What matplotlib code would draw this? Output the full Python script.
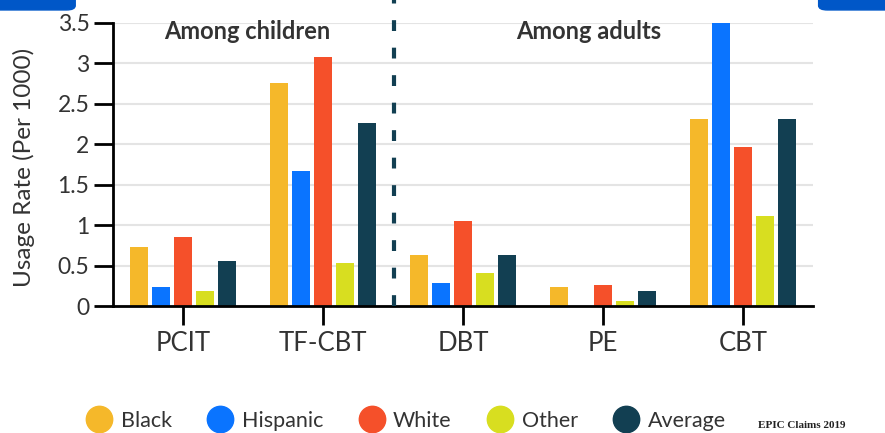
import numpy as np
import matplotlib
matplotlib.use("Agg")
import matplotlib.pyplot as plt
from matplotlib.patches import FancyBboxPatch
from matplotlib.lines import Line2D

plt.rcParams['font.family'] = ['Lato', 'DejaVu Sans']

# usage rates per 1000, by treatment and group
treatments = ["PCIT", "TF-CBT", "DBT", "PE", "CBT"]
groups = ["Black", "Hispanic", "White", "Other", "Average"]
black = [0.73, 2.76, 0.63, 0.23, 2.31]
hispanic = [0.23, 1.67, 0.28, 0.0, 3.5]
white = [0.85, 3.08, 1.05, 0.26, 1.97]
other = [0.19, 0.53, 0.41, 0.06, 1.11]
average = [0.56, 2.26, 0.63, 0.19, 2.31]
colors = ["#F5B82A", "#0A74FF", "#F5502A", "#D8DE20", "#123F52"]

series = [black, hispanic, white, other, average]

fig = plt.figure(figsize=(8.85, 4.33), dpi=100)
ax = fig.add_axes([0.1277, 0.2933, 0.7910, 0.6536])

x = np.arange(len(treatments))
step = 0.157
width = 0.128
for i, (vals, col) in enumerate(zip(series, colors)):
    ax.bar(x + (i - 2) * step, vals, width=width, color=col, zorder=3)

ax.set_xlim(-0.5, 4.5)
ax.set_ylim(0, 3.5)
ax.set_yticks(np.arange(0, 3.51, 0.5))
ax.set_yticklabels(["0", "0.5", "1", "1.5", "2", "2.5", "3", "3.5"])
ax.set_xticks(x)
ax.set_xticklabels(treatments)
ax.tick_params(axis='both', length=14, width=2, color='black',
               labelcolor='#333333')
ax.tick_params(axis='x', pad=4, labelsize=18.5)
ax.tick_params(axis='y', pad=3, labelsize=16.5)
ax.grid(axis='y', color='#e4e4e4', linewidth=1.5, zorder=0)

for side in ['top', 'right']:
    ax.spines[side].set_visible(False)
for side in ['left', 'bottom']:
    ax.spines[side].set_linewidth(2)
    ax.spines[side].set_zorder(4)

ax.set_ylabel("Usage Rate (Per 1000)", fontsize=17.5, color='#333333')
ax.yaxis.set_label_coords(-0.112, 0.49)

# divider between children and adults
ax.axvline(1.51, ymin=0, ymax=1.085, color='#123F52', linewidth=3,
           linestyle=(0, (2.6, 4)), clip_on=False, zorder=5)

ax.text(0.46, 3.39, "Among children", ha='center', va='center',
        fontsize=17, fontweight='bold', color='#333333')
ax.text(2.90, 3.39, "Among adults", ha='center', va='center',
        fontsize=17, fontweight='bold', color='#333333')

handles = [Line2D([], [], linestyle='none', marker='o', markersize=19,
                  markerfacecolor=c, markeredgecolor=c) for c in colors]
fig.legend(handles, groups, loc='center', bbox_to_anchor=(0.46, 0.028),
           ncol=5, frameon=False, fontsize=15.5, handlelength=1.0,
           handletextpad=0.5, columnspacing=1.75, labelcolor='#333333')

fig.text(0.856, 0.018, "EPIC Claims 2019", fontsize=8, fontweight='bold',
         family='Liberation Serif', ha='left', va='center', color='#222222')

# blue tabs along the top edge
fig.patches.append(FancyBboxPatch((-0.02, 0.977), 0.105, 0.05,
                                  boxstyle="round,pad=0,rounding_size=0.01",
                                  transform=fig.transFigure, color='#0057C8'))
fig.patches.append(FancyBboxPatch((0.925, 0.977), 0.1, 0.05,
                                  boxstyle="round,pad=0,rounding_size=0.01",
                                  transform=fig.transFigure, color='#0057C8'))

fig.savefig("out.png", dpi=100)
